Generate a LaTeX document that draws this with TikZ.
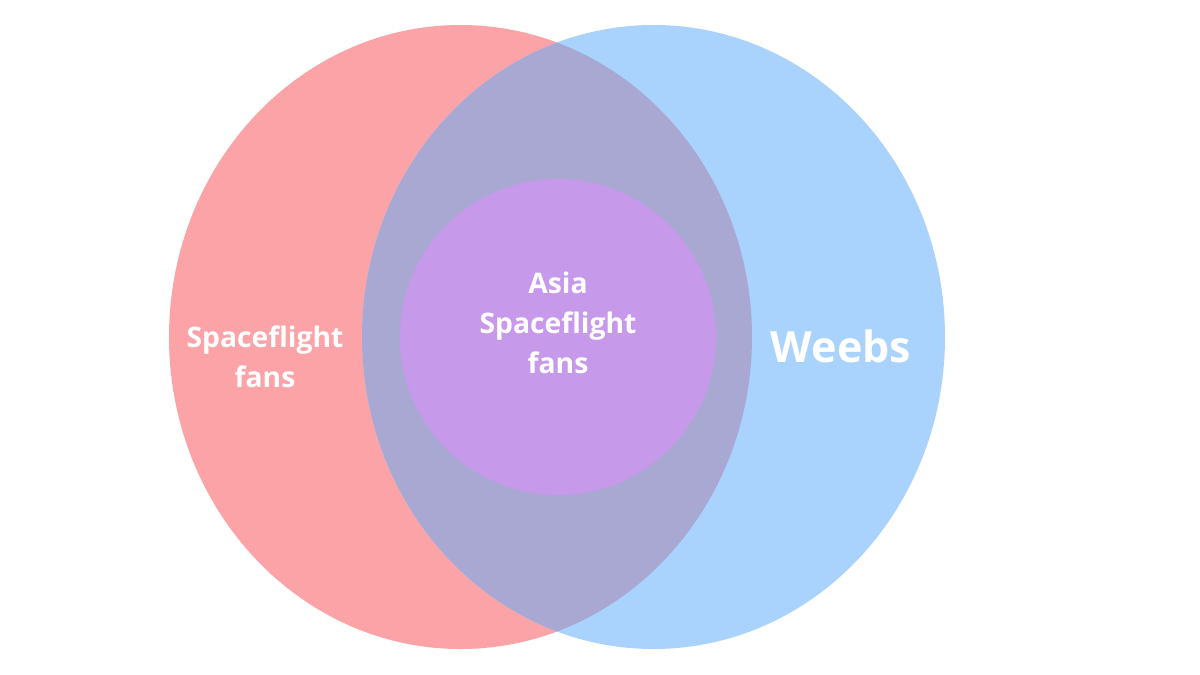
\documentclass[tikz,border=0pt]{standalone}
\usepackage{fontspec}
\setmainfont{Open Sans}
\definecolor{cred}{HTML}{FCA3A8}
\definecolor{cblue}{HTML}{A9D3FC}
\definecolor{cover}{HTML}{A9A8D3}
\definecolor{cin}{HTML}{C699EA}
\begin{document}
\begin{tikzpicture}[x=1pt,y=-1pt,
  lbl/.style={text=white,font=\bfseries\fontsize{28.3}{40}\selectfont,align=center}]
\useasboundingbox (0,0) rectangle (1200,675);
\fill[white] (0,0) rectangle (1200,675);
\fill[cred] (460.5,337) ellipse [x radius=291.5, y radius=312];
\fill[cblue] (653.5,337) ellipse [x radius=291.5, y radius=312];
\begin{scope}
\clip (460.5,337) ellipse [x radius=291.5, y radius=312];
\fill[cover] (653.5,337) ellipse [x radius=291.5, y radius=312];
\end{scope}
\fill[cin] (558,337) circle [radius=158];
\node[lbl] (sf) at (265,357) {Spaceflight\\fans};
\node[lbl] (asf) at (558,323) {Asia\\Spaceflight\\fans};
\node[lbl,font=\bfseries\fontsize{43}{48}\selectfont] (wb) at (841,346) {Weebs};
\end{tikzpicture}
\end{document}
